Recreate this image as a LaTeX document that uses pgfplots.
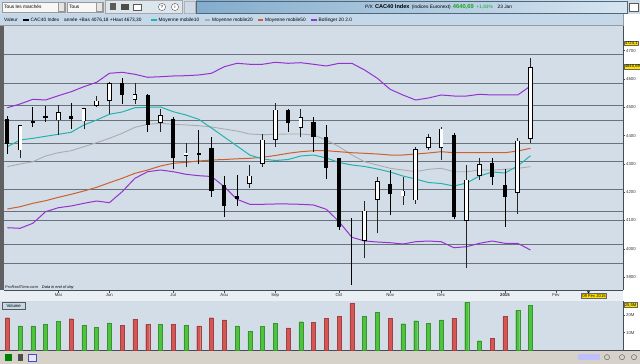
\documentclass[border=0pt]{standalone}
\usepackage{fontspec}
\setmainfont{Liberation Sans}
\usepackage{pgfplots}
\usepackage{pgfplotstable}
\pgfplotsset{compat=1.18}

\definecolor{chartbg}{RGB}{210,221,232}
\definecolor{gridc}{RGB}{105,114,124}
\definecolor{axc}{RGB}{70,76,84}
\definecolor{ma10}{RGB}{38,178,172}
\definecolor{ma20}{RGB}{172,172,172}
\definecolor{ma50}{RGB}{206,96,46}
\definecolor{boll}{RGB}{150,50,205}
\definecolor{vgreen}{RGB}{76,196,62}
\definecolor{vred}{RGB}{214,86,86}
\definecolor{rowone}{RGB}{206,218,229}
\definecolor{rowtwo}{RGB}{196,216,234}
\definecolor{strip}{RGB}{234,239,244}
\definecolor{beige}{RGB}{214,210,202}
\definecolor{ylab}{RGB}{255,226,0}
\definecolor{pxgreen}{RGB}{30,165,30}
\definecolor{barL}{RGB}{132,172,204}
\definecolor{barR}{RGB}{214,229,241}

\newcommand\ft{\fontsize{4.8}{5.5}\selectfont}
\newcommand\fs{\fontsize{4.3}{5}\selectfont}

% weekly candles: i, low, body low, body high, high
\pgfplotstableread{
i l bl bh h
0 4335.0 4370.3 4457.6 4469.3
2 4431.4 4445.6 4452.6 4500.0
3 4449.1 4461.1 4468.2 4505.7
5 4422.3 4458.7 4468.2 4516.3
9 4511.7 4543.5 4584.8 4602.5
11 4411.7 4438.5 4542.4 4545.9
13 4280.9 4319.8 4457.6 4464.7
15 4299.6 4332.5 4338.5 4419.8
16 4184.1 4205.3 4355.1 4394.0
17 4113.4 4152.3 4225.4 4257.2
18 4152.3 4177.0 4186.5 4260.7
22 4413.8 4443.5 4489.4 4493.0
24 4343.1 4396.1 4449.1 4466.8
25 4245.5 4284.4 4394.0 4437.5
26 4066.4 4075.9 4319.8 4321.0
27 3872.0 4080.0 4080.0 4107.7
30 4119.4 4193.6 4228.9 4278.4
35 4105.2 4113.4 4402.1 4410.2
38 4225.4 4254.7 4304.2 4321.9
39 4078.1 4181.9 4225.4 4280.9
}\blackc
\pgfplotstableread{
i l bl bh h
1 4321.9 4349.1 4435.0 4436.5
4 4402.1 4455.1 4480.9 4508.1
6 4422.3 4451.6 4495.1 4497.0
7 4500.0 4507.1 4522.3 4539.9
8 4475.3 4524.7 4584.8 4590.5
10 4511.7 4528.3 4544.5 4584.8
12 4411.7 4447.0 4470.3 4494.0
14 4290.1 4330.4 4338.5 4374.9
19 4213.7 4231.4 4257.2 4296.1
20 4290.1 4302.1 4384.4 4404.6
21 4360.8 4386.9 4490.5 4514.1
23 4394.0 4427.9 4464.7 4494.0
28 3966.4 4028.6 4133.5 4168.9
29 4054.7 4174.9 4237.1 4252.6
31 4154.7 4186.5 4204.2 4254.7
32 4160.0 4172.4 4351.6 4360.8
33 4349.1 4357.2 4394.0 4404.6
34 4313.8 4357.2 4423.3 4431.4
36 3931.0 4099.2 4243.1 4296.1
37 4243.1 4259.0 4298.6 4321.9
40 4122.9 4199.6 4380.9 4390.4
41 4372.8 4390.4 4640.7 4673.3
}\whitec

\pgfplotsset{
  vseg/.style={draw=none, mark=none, error bars/.cd, y dir=plus, y explicit, error mark=none},
}

\begin{document}
\begin{tikzpicture}[x=1pt,y=1pt]
\useasboundingbox (0,0) rectangle (640,364);
\fill[white] (0,0) rectangle (640,364);
% ---- row 1 (toolbar)
\fill[rowone] (0,350) rectangle (640,364);
\draw[gray!80, fill=white!94!gray] (2,352) rectangle (65,362);
\draw[gray!80, fill=gray!20] (58.5,352.5) rectangle (64.5,361.5);
\node[anchor=west, inner sep=0pt, font=\ft] at (4,357) {Tous les marchés};
\draw[gray!80, fill=white!94!gray] (67,352) rectangle (103,362);
\draw[gray!80, fill=gray!20] (96.5,352.5) rectangle (102.5,361.5);
\node[anchor=west, inner sep=0pt, font=\ft] at (69,357) {Tous};
\draw[gray!70, fill=rowone!70!white] (105,350.5) rectangle (182,363.5);
\fill[gray!70!black] (110,353.5) rectangle (116,360.5);
\fill[gray!60!black] (121,353.5) rectangle (129,359.5);
\draw[gray!70!black, fill=white] (133,354) rectangle (141,359.5);
\draw[gray!70!black, fill=white] (162,357) circle (3.6pt) node[font=\fontsize{4.5}{5}\selectfont\bfseries] {?};
\draw[gray!70!black, fill=white] (175,357) circle (3.6pt) node[font=\fontsize{4.5}{5}\selectfont\bfseries] {i};
\draw[gray!60] (184,351) rectangle (195,363);
\draw[barL!60!black, left color=barL, right color=barR] (196,351) rectangle (627,363);
\node[anchor=west, inner sep=0pt, font=\ft] at (365,357)
  {P/X \,{\fontsize{5.6}{6}\selectfont\bfseries CAC40 Index}\, (Indices Euronext)\, {\color{pxgreen}\fontsize{5.8}{6}\selectfont\bfseries 4640,69}\; {\color{pxgreen}+1,83\%}\quad 23 Jan};
\draw[gray!70!black, fill=white] (629,353) rectangle (638,361);
% ---- row 2 (legend)
\fill[rowtwo] (0,338) rectangle (623,350);
\draw[gray!80] (0,338.3) -- (623,338.3) -- (623,350);
\node[anchor=west, inner sep=0pt, font=\ft] at (4,344) {Valeur};
\fill[black] (23,343) rectangle (28.5,345);
\node[anchor=west, inner sep=0pt, font=\ft] at (30.5,344) {CAC40 Index};
\node[anchor=west, inner sep=0pt, font=\ft] at (64,344) {année +Bas 4076,18 +Haut 4673,30};
\fill[ma10] (151,343) rectangle (156.5,345);
\node[anchor=west, inner sep=0pt, font=\ft] at (158.5,344) {Moyenne mobile10};
\fill[ma20] (204.5,343) rectangle (210,345);
\node[anchor=west, inner sep=0pt, font=\ft] at (212,344) {Moyenne mobile20};
\fill[ma50] (257.5,343) rectangle (263,345);
\node[anchor=west, inner sep=0pt, font=\ft] at (265,344) {Moyenne mobile50};
\fill[boll] (311,343) rectangle (316.5,345);
\node[anchor=west, inner sep=0pt, font=\ft] at (318.5,344) {Bollinger 20 2.0};
% ---- strips
\fill[strip] (0,63.3) rectangle (623,73.5);
\fill[gray!75!black] (0,73.5) rectangle (3.5,338);
\fill[chartbg] (0,13.6) rectangle (4,63.3);
\fill[beige] (0,0) rectangle (640,13);
\draw[axc, line width=0.9pt] (0,13.3) -- (640,13.3);

% ---- price panel
\begin{axis}[
  at={(4pt,73.5pt)}, anchor=south west, scale only axis,
  width=619pt, height=264.5pt,
  xmin=-0.26, xmax=48.25, ymin=3852.6, ymax=4787.3,
  axis background/.style={fill=chartbg},
  axis x line*=bottom, axis y line*=right,
  axis line style={draw=axc, line width=0.8pt, -},
  tick align=outside, major tick length=2.2pt, minor tick length=1.2pt,
  tick style={draw=axc, line width=0.5pt},
  xtick={4,8,13,17,21,26,30,34,39,43},
  xticklabels={Mai,Jun,Jul,Aou,Sep,Oct,Nov,Dec,\textbf{2015},Fev},
  xticklabel style={font=\fs, text=black!85, inner sep=0.8pt},
  ytick={3900,4000,...,4700}, minor y tick num=1,
  yticklabel style={font=\fs, text=black!80, inner sep=0.8pt},
  /pgf/number format/assume math mode=true,
  /pgf/number format/1000 sep={},
  extra y ticks={4688.4,4584.8,4508.1,4455.1,4373.8,4310.2,4210.2,4131.1,4101.7,4016.9,3948.7},
  extra y tick labels={},
  extra y tick style={grid=major, major grid style={draw=gridc, line width=0.8pt}, major tick length=0pt},
]
% moving averages and bands
\addplot[ma20, line width=0.9pt] coordinates {(0,4290.1) (1,4299.6) (2,4307.7) (3,4327.9) (4,4339.5) (5,4346.6) (6,4360.8) (7,4374.9) (8,4390.4) (9,4408.1) (10,4429.3) (11,4439.9) (12,4443.5) (13,4439.9) (14,4437.5) (15,4435.0) (16,4430.4) (17,4423.3) (18,4416.2) (19,4405.6) (20,4403.2) (21,4404.6) (22,4405.6) (23,4405.6) (24,4402.1) (25,4384.4) (26,4360.8) (27,4331.4) (28,4307.7) (29,4296.1) (30,4284.4) (31,4278.4) (32,4272.4) (33,4280.9) (34,4284.4) (35,4272.4) (36,4272.4) (37,4278.4) (38,4278.4) (39,4280.9) (40,4284.4) (41,4290.1)};
\addplot[ma50, line width=1pt] coordinates {(0,4140.6) (1,4148.7) (2,4160.7) (3,4169.9) (4,4181.9) (5,4192.5) (6,4204.2) (7,4217.3) (8,4233.5) (9,4249.1) (10,4266.7) (11,4278.4) (12,4292.6) (13,4302.1) (14,4305.6) (15,4310.2) (16,4313.8) (17,4315.5) (18,4318.0) (19,4319.8) (20,4323.3) (21,4329.6) (22,4337.4) (23,4343.1) (24,4346.6) (25,4346.6) (26,4343.1) (27,4339.5) (28,4337.4) (29,4335.0) (30,4331.4) (31,4331.4) (32,4335.0) (33,4338.5) (34,4343.1) (35,4339.5) (36,4339.5) (37,4339.5) (38,4339.5) (39,4339.5) (40,4345.6) (41,4355.1)};
\addplot[ma10, line width=1pt] coordinates {(0,4360.8) (1,4384.4) (2,4390.4) (3,4397.5) (4,4404.6) (5,4411.7) (6,4437.5) (7,4455.1) (8,4475.3) (9,4483.4) (10,4498.6) (11,4500.0) (12,4501.1) (13,4484.5) (14,4472.8) (15,4457.6) (16,4426.8) (17,4395.0) (18,4363.2) (19,4331.4) (20,4317.3) (21,4312.0) (22,4315.5) (23,4327.9) (24,4331.4) (25,4320.8) (26,4304.9) (27,4296.1) (28,4290.8) (29,4282.0) (30,4271.4) (31,4257.2) (32,4246.6) (33,4234.2) (34,4230.7) (35,4221.9) (36,4232.5) (37,4257.2) (38,4271.4) (39,4267.8) (40,4292.6) (41,4328.9)};
\addplot[boll, line width=1pt] coordinates {(0,4498.6) (1,4511.7) (2,4528.3) (3,4525.8) (4,4541.0) (5,4555.1) (6,4572.8) (7,4588.4) (8,4620.2) (9,4623.7) (10,4616.6) (11,4606.0) (12,4608.1) (13,4610.6) (14,4611.7) (15,4614.2) (16,4620.2) (17,4643.5) (18,4655.5) (19,4652.0) (20,4652.0) (21,4659.0) (22,4655.5) (23,4657.6) (24,4652.0) (25,4646.0) (26,4655.5) (27,4655.5) (28,4631.8) (29,4602.5) (30,4563.6) (31,4543.5) (32,4525.8) (33,4532.9) (34,4543.5) (35,4539.9) (36,4539.9) (37,4545.9) (38,4543.5) (39,4543.5) (40,4543.5) (41,4575.3)};
\addplot[boll, line width=1pt] coordinates {(0,4074.5) (1,4072.4) (2,4090.1) (3,4131.1) (4,4145.2) (5,4151.2) (6,4160.7) (7,4168.9) (8,4162.9) (9,4201.7) (10,4249.1) (11,4272.4) (12,4278.4) (13,4272.4) (14,4263.2) (15,4258.3) (16,4255.5) (17,4219.4) (18,4174.9) (19,4157.2) (20,4157.2) (21,4158.3) (22,4158.3) (23,4157.2) (24,4154.7) (25,4139.5) (26,4095.7) (27,4040.6) (28,4027.5) (29,4024.0) (30,4021.5) (31,4016.9) (32,4025.0) (33,4027.5) (34,4025.0) (35,4003.8) (36,4007.4) (37,4019.4) (38,4027.5) (39,4019.4) (40,4019.4) (41,3995.7)};
% wicks
\addplot[vseg, error bar style={draw=black, line width=0.75pt}] table[x=i, y=l, y error expr=\thisrow{h}-\thisrow{l}] {\blackc};
\addplot[vseg, error bar style={draw=black!85, line width=0.75pt}] table[x=i, y=l, y error expr=\thisrow{h}-\thisrow{l}] {\whitec};
% bodies
\addplot[vseg, error bar style={draw=black, line width=4.2pt}] table[x=i, y=bl, y error expr=\thisrow{bh}-\thisrow{bl}] {\blackc};
\addplot[vseg, error bar style={draw=black, line width=4.6pt}] table[x=i, y expr=\thisrow{bl}-1.3, y error expr=\thisrow{bh}-\thisrow{bl}+2.6] {\whitec};
\addplot[vseg, error bar style={draw=white, line width=3.1pt}] table[x=i, y expr=\thisrow{bl}+1.3, y error expr=\thisrow{bh}-\thisrow{bl}-2.6] {\whitec};
\end{axis}

% ---- volume panel
\begin{axis}[
  at={(4pt,13.6pt)}, anchor=south west, scale only axis,
  width=619pt, height=49.7pt,
  xmin=-0.26, xmax=48.25, ymin=0, ymax=28.08,
  axis background/.style={fill=chartbg},
  axis x line*=bottom, axis y line*=right,
  axis line style={draw=axc, line width=0.8pt, -},
  tick align=outside, major tick length=2.2pt,
  tick style={draw=axc, line width=0.5pt},
  xtick=\empty,
  ytick={10,20}, yticklabels={10M,20M},
  yticklabel style={font=\fs, text=black!80, inner sep=0.8pt},
]
\addplot[ybar, bar width=4pt, bar shift=0pt, fill=vgreen, draw=vgreen!75!black, line width=0.3pt] coordinates {(1,13.8) (2,13.8) (3,14.7) (4,16.6) (6,14.2) (7,13.2) (8,15.5) (12,14.9) (14,14.2) (18,13.8) (19,10.6) (20,13.6) (21,15.3) (23,16.2) (28,19.4) (29,21.5) (31,15.1) (32,16.8) (33,15.3) (34,17.2) (36,27.2) (37,5.5) (40,22.8) (41,25.6)};
\addplot[ybar, bar width=4pt, bar shift=0pt, fill=vred, draw=vred!75!black, line width=0.3pt] coordinates {(0,18.5) (5,17.9) (9,14.2) (10,17.7) (11,14.7) (13,14.9) (15,13.8) (16,18.5) (17,17.3) (22,12.7) (24,16.0) (25,18.3) (26,19.4) (27,26.6) (30,18.3) (35,18.3) (38,6.8) (39,19.4)};
\end{axis}

% ---- annotations
\node[anchor=west, inner sep=0pt, font=\fontsize{3.9}{4.5}\selectfont] at (5,76.3) {\textcolor{black!70}{\textbf{\textit{ProRealTime.com}}}\quad \textit{Data in end of day}};
\draw[gray!70!black, fill=rowtwo] (2.5,54.5) rectangle (25,62);
\node[font=\fs] at (13.7,58.2) {Volume};
\node[anchor=west, fill=ylab, draw=black!60, inner xsep=0.8pt, inner ysep=0.6pt, font=\fontsize{4.2}{4.6}\selectfont] at (623.8,320.7) {4724,1};
\node[anchor=west, fill=ylab, draw=black!60, inner xsep=0.8pt, inner ysep=0.6pt, font=\fontsize{4.2}{4.6}\selectfont] at (623.8,297.3) {4640,69};
\node[anchor=west, fill=ylab, draw=black!60, inner xsep=0.8pt, inner ysep=0.6pt, font=\fontsize{4.2}{4.6}\selectfont] at (623.8,59) {25,5M};
\node[fill=ylab, draw=black!60, inner xsep=0.8pt, inner ysep=0.6pt, font=\fontsize{4.2}{4.6}\selectfont] at (594,68.3) {09 Fev 2015};
\fill[black] (587,72.5) -- (590,72.5) -- (588.5,70.8) -- cycle;
% bottom toolbar icons
\fill[green!50!black] (5,3) rectangle (12,10);
\fill[gray!60!black] (18,3) rectangle (23,10);
\draw[blue!40!gray, fill=blue!10] (28,3) rectangle (36,10);
\fill[blue!25!white] (578,4) rectangle (600,9.5);
\draw[gray!70!black] (607,6.8) circle (2.6pt);
\draw[gray!70!black] (622,6.8) circle (2.6pt);
\draw[gray!70!black] (634,6.8) circle (2.6pt);
\end{tikzpicture}
\end{document}
